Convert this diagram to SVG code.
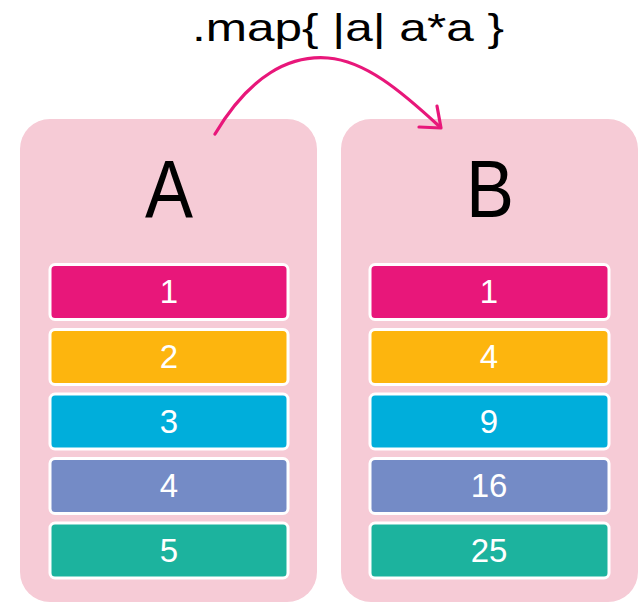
<svg xmlns="http://www.w3.org/2000/svg" width="644" height="603" viewBox="0 0 644 603">
<style>
.panel{fill:#F6CBD6}
.item{stroke:#FFFFFF;stroke-width:3}
.num{font-family:"Liberation Sans",Arial,sans-serif;font-size:33px;fill:#FFFFFF;text-anchor:middle}
.big{font-family:"Liberation Sans",Arial,sans-serif;font-size:81px;fill:#000000;text-anchor:middle}
.title{font-family:"Liberation Sans",Arial,sans-serif;font-size:39px;fill:#000000;text-anchor:middle}
.c1{fill:#E8177A}.c2{fill:#FDB50E}.c3{fill:#00AEDB}.c4{fill:#748BC6}.c5{fill:#1CB39E}
.arrow{fill:none;stroke:#E8177A;stroke-width:3.2;stroke-linecap:round;stroke-linejoin:round}
</style>
<rect width="644" height="603" fill="#FFFFFF"/>
<text class="title" x="348" y="41" textLength="312" lengthAdjust="spacingAndGlyphs">.map{ |a| a*a }</text>
<g id="A">
<rect class="panel" x="20" y="119" width="297" height="483" rx="30"/>
<text class="big" x="169" y="217" textLength="48" lengthAdjust="spacingAndGlyphs">A</text>
<g id="A1"><rect class="item c1" x="50" y="264.5" width="238" height="55" rx="5"/><text class="num" x="169" y="303">1</text></g>
<g id="A2"><rect class="item c2" x="50" y="329.5" width="238" height="55" rx="5"/><text class="num" x="169" y="368">2</text></g>
<g id="A3"><rect class="item c3" x="50" y="394" width="238" height="55" rx="5"/><text class="num" x="169" y="432.5">3</text></g>
<g id="A4"><rect class="item c4" x="50" y="458.5" width="238" height="55" rx="5"/><text class="num" x="169" y="497">4</text></g>
<g id="A5"><rect class="item c5" x="50" y="523" width="238" height="55" rx="5"/><text class="num" x="169" y="561.5">5</text></g>
</g>
<g id="B">
<rect class="panel" x="341" y="119" width="297" height="483" rx="30"/>
<text class="big" x="490" y="217" textLength="48" lengthAdjust="spacingAndGlyphs">B</text>
<g id="B1"><rect class="item c1" x="370" y="264.5" width="239" height="55" rx="5"/><text class="num" x="489" y="303">1</text></g>
<g id="B2"><rect class="item c2" x="370" y="329.5" width="239" height="55" rx="5"/><text class="num" x="489" y="368">4</text></g>
<g id="B3"><rect class="item c3" x="370" y="394" width="239" height="55" rx="5"/><text class="num" x="489" y="432.5">9</text></g>
<g id="B4"><rect class="item c4" x="370" y="458.5" width="239" height="55" rx="5"/><text class="num" x="489" y="497">16</text></g>
<g id="B5"><rect class="item c5" x="370" y="523" width="239" height="55" rx="5"/><text class="num" x="489" y="561.5">25</text></g>
</g>
<g id="connectors">
<path class="arrow" d="M215,134 C250,75 290,55 328,58 C365,61 400,90 440,127"/>
<path class="arrow" d="M419,127 L441,128 L437,106"/>
</g>
</svg>
